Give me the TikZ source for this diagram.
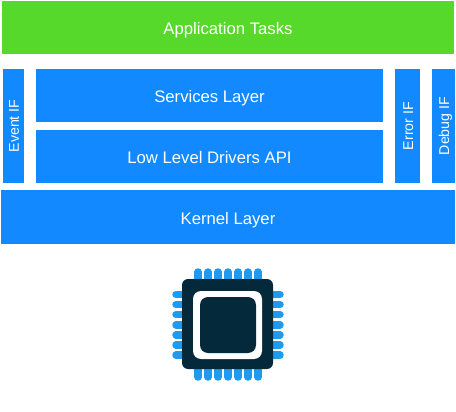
\documentclass[tikz,border=0pt]{standalone}
\usepackage{fontspec}
\setmainfont{Liberation Sans}
\definecolor{layerblue}{HTML}{1289FF}
\definecolor{taskgreen}{HTML}{57D92C}
\definecolor{chipdark}{HTML}{04293A}
\definecolor{pinblue}{HTML}{1E9BF0}
\tikzset{
  layerbox/.style={fill=layerblue,draw=none,inner sep=0pt,text=white,text height=14pt,text depth=0pt,font=\fontsize{16.7}{20}\selectfont},
  taskbox/.style={layerbox,fill=taskgreen},
  ifbox/.style={layerbox,rotate=90,text height=11pt,font=\fontsize{14.2}{17}\selectfont},
  chippin/.style={pinblue,line width=7.5pt,line cap=round}
}
\begin{document}
\begin{tikzpicture}[x=1pt,y=1pt]
    \useasboundingbox (0,0) rectangle (456,-412);
    \node[taskbox,minimum width=452pt,minimum height=53pt] (tasks) at (228,-27.5) {Application Tasks};
    \node[layerbox,minimum width=347pt,minimum height=53.5pt] (services) at (209.5,-95.75) {Services Layer};
    \node[layerbox,minimum width=347pt,minimum height=53pt] (drivers) at (209.5,-156.5) {Low Level Drivers API};
    \node[layerbox,minimum width=454pt,minimum height=54pt] (kernel) at (228,-217) {Kernel Layer};
    \node[ifbox,minimum width=114pt,minimum height=21pt] (eventif) at (13.5,-126) {Event IF};
    \node[ifbox,minimum width=114pt,minimum height=25pt] (errorif) at (407.5,-126) {Error IF};
    \node[ifbox,minimum width=114pt,minimum height=23pt] (debugif) at (443.5,-126) {Debug IF};
    % pins first, the body lies over their inner ends
    \foreach \i in {0,...,6} {
      \draw[chippin] ({198+10*\i},-272) -- ({198+10*\i},-285);
      \draw[chippin] ({198+10*\i},-365) -- ({198+10*\i},-377);
      \draw[chippin] (176,{-294.5-10.1*\i}) -- (190,{-294.5-10.1*\i});
      \draw[chippin] (265,{-294.5-10.1*\i}) -- (280,{-294.5-10.1*\i});
    }
    \fill[chipdark,rounded corners=6pt] (182,-279) rectangle (273,-369);
    \fill[white,rounded corners=8pt] (193,-291) rectangle (262,-359);
    \fill[chipdark,rounded corners=8pt] (200,-297) rectangle (256,-353);
\end{tikzpicture}
\end{document}
